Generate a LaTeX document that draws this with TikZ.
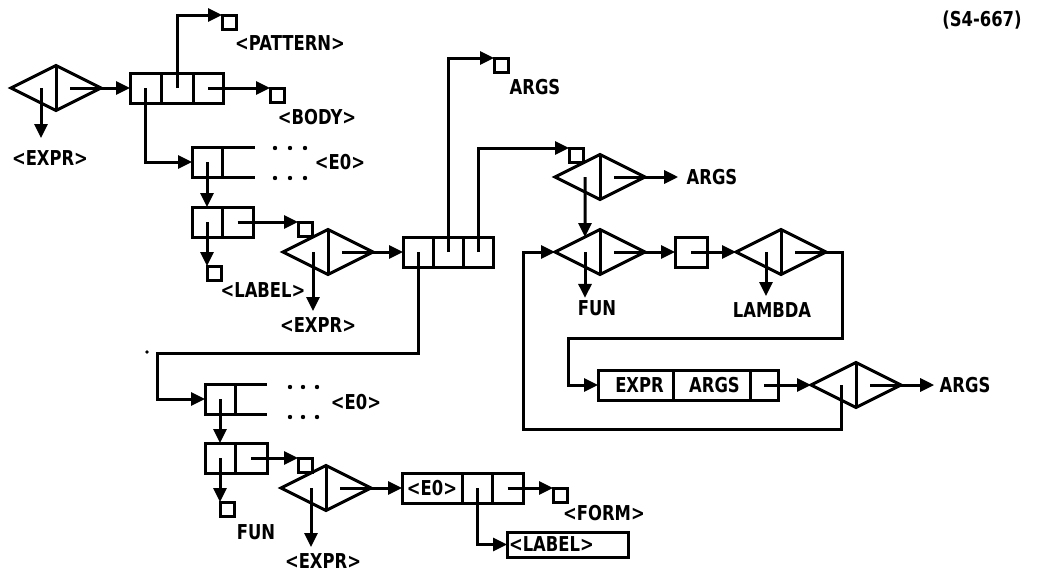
\documentclass[tikz,border=0pt]{standalone}
\usepackage{fontspec}
\setmainfont[FakeStretch=0.8]{DejaVu Sans}
\usetikzlibrary{shapes.geometric,arrows.meta}
\newcommand\lblfont{\bfseries\fontsize{20.5}{20.5}\selectfont}
\begin{document}
\begin{tikzpicture}[x=1pt,y=-1pt,line width=3pt,
 arr/.style={-{Triangle[length=14pt,width=13pt]}},
 dia/.style={draw,diamond,minimum width=90pt,minimum height=45pt,inner sep=0pt,outer sep=0pt},
 cell/.style={draw,rectangle,minimum height=30pt,minimum width=30pt,inner sep=0pt,outer sep=0pt,font=\lblfont},
 sbox/.style={draw,rectangle,minimum width=14pt,minimum height=14pt,inner sep=0pt,outer sep=0pt},
 lbl/.style={inner sep=1pt,font=\lblfont}]
\useasboundingbox (0,0) rectangle (1041,573);

% ---------- top left ----------
\node[dia] (d1) at (56,88) {};
\draw (d1.north) -- (d1.south);
\node[lbl] (ex1) at (50,158) {<EXPR>};
\draw[arr,shorten >=10pt] ([xshift=-15pt]d1.center) -- ([xshift=-15pt]d1.center |- ex1.north);

\node[cell,minimum width=31pt] (b1a) at (145.5,88) {};
\node[cell,minimum width=32pt] (b1b) at (177,88) {};
\node[cell] (b1c) at (208,88) {};
\draw[arr] ([xshift=14pt]d1.center) -- (b1a.west);
\node[sbox] (s1) at (229,22) {};
\node[sbox] (s2) at (277,95) {};
\node[lbl] (pat) at (290,43) {<PATTERN>};
\node[lbl] (body) at (317,117) {<BODY>};
\draw[arr] (b1b.center) |- (s1.north west);
\draw[arr] (b1c.center) -- (s2.north west);

\node[cell] (b2a) at (207,162) {};
\draw[arr] (b1a.center) |- (b2a.west);
\draw (b2a.north east) -- ++(33,0);
\draw (b2a.south east) -- ++(33,0);
\foreach \x in {275,290,305} {\fill (\x,148) circle[radius=2.2pt]; \fill (\x,178) circle[radius=2.2pt];}
\node[lbl] (e01) at (340,162) {<E0>};

\node[cell] (b3a) at (207,222) {};
\node[cell,minimum width=31pt] (b3b) at (237.5,222) {};
\draw[arr] (b2a.center) -- (b3a.north);
\node[sbox] (s3) at (214,273) {};
\draw[arr] (b3a.center) -- (s3.north west);
\node[lbl] (lab1) at (263,290) {<LABEL>};
\node[sbox] (s4) at (305,229) {};
\draw[arr] (b3b.center) -- (s4.north west);

\node[dia] (d2) at (328,252) {};
\draw (d2.north) -- (d2.south);
\node[lbl] (ex2) at (318,325) {<EXPR>};
\draw[arr,shorten >=4pt] ([xshift=-15pt]d2.center) -- ([xshift=-15pt]d2.center |- ex2.north);

% ---------- middle ----------
\node[cell] (b4a) at (418,252) {};
\node[cell] (b4b) at (448,252) {};
\node[cell] (b4c) at (478,252) {};
\draw[arr] ([xshift=14pt]d2.center) -- (b4a.west);
\node[sbox] (s5) at (501,65) {};
\draw[arr] (b4b.center) |- (s5.north west);
\node[lbl] (args1) at (535,87) {ARGS};
\node[sbox] (s6) at (576,155) {};
\draw[arr] (b4c.center) |- (s6.north west);

\node[dia] (d3) at (600,177) {};
\draw (d3.north) -- (d3.south);
\node[lbl] (args2) at (712,177) {ARGS};
\draw[arr,shorten >=6pt] ([xshift=14pt]d3.center) -- (args2.west);

\node[dia] (d4) at (600,252) {};
\draw (d4.north) -- (d4.south);
\draw[arr] ([xshift=-15pt]d3.center) -- (d4.135);
\node[lbl] (fun1) at (597,308) {FUN};
\draw[arr,shorten >=0pt] ([xshift=-15pt]d4.center) -- ([xshift=-15pt]d4.center |- fun1.north);

\node[cell,minimum width=32pt] (b6) at (691,252) {};
\draw[arr] ([xshift=14pt]d4.center) -- (b6.west);
\node[dia] (d5) at (781,252) {};
\draw (d5.north) -- (d5.south);
\draw[arr] (b6.center) -- (d5.west);
\node[lbl] (lam) at (772,310) {LAMBDA};
\draw[arr,shorten >=4pt] ([xshift=-15pt]d5.center) -- ([xshift=-15pt]d5.center |- lam.north);

\coordinate (c1) at (842,338);
\coordinate (c2) at (568,338);
\node[cell,minimum width=75pt] (b7a) at (635.5,385) {\hspace*{8pt}EXPR};
\node[cell,minimum width=77pt] (b7b) at (711.5,385) {\hspace*{6pt}ARGS};
\node[cell,minimum width=28pt] (b7c) at (764,385) {};
\draw[arr] ([xshift=14pt]d5.center) -| (c1) -- (c2) |- (b7a.west);

\node[dia] (d6) at (856,385) {};
\draw (d6.north) -- (d6.south);
\draw[arr] (b7c.center) -- (d6.west);
\node[lbl] (args3) at (965,385) {ARGS};
\draw[arr,shorten >=3pt] ([xshift=14pt]d6.center) -- (args3.west);
\coordinate (lp) at (523,429);
\draw[arr] ([xshift=-15pt]d6.center) |- (lp) |- (d4.west);

% ---------- bottom ----------
\coordinate (c3) at (157,353);
\fill (147,352) circle[radius=1.8pt];
\node[cell] (b5a) at (220,399) {};
\draw[arr] (b4a.center) |- (c3) |- (b5a.west);
\draw (b5a.north east) -- ++(32,0);
\draw (b5a.south east) -- ++(32,0);
\foreach \x in {290,303,317} {\fill (\x,387) circle[radius=2.2pt]; \fill (\x,417) circle[radius=2.2pt];}
\node[lbl] (e02) at (356,402) {<E0>};

\node[cell] (b8a) at (220,458) {};
\node[cell,minimum width=32pt] (b8b) at (251,458) {};
\draw[arr] (b5a.center) -- (b8a.north);
\node[sbox] (s7) at (227,509) {};
\draw[arr] (b8a.center) -- (s7.north west);
\node[lbl] (fun2) at (256,532) {FUN};
\node[sbox] (s8) at (305,465) {};
\draw[arr] (b8b.center) -- (s8.north west);

\node[dia] (d7) at (326,488) {};
\draw (d7.north) -- (d7.south);
\node[lbl] (ex3) at (323,561) {<EXPR>};
\draw[arr,shorten >=4pt] ([xshift=-15pt]d7.center) -- ([xshift=-15pt]d7.center |- ex3.north);

\node[cell,minimum width=60pt] (b9a) at (432,488) {<E0>};
\node[cell] (b9b) at (477,488) {};
\node[cell,minimum width=31pt] (b9c) at (507.5,488) {};
\draw[arr] ([xshift=14pt]d7.center) -- (b9a.west);
\node[draw,rectangle,minimum width=121pt,minimum height=25pt,inner xsep=2pt,inner ysep=0pt,outer sep=0pt,text width=117pt,align=left,font=\lblfont] (lb) at (567.5,544.5) {<LABEL>};
\draw[arr] (b9b.center) |- (lb.west);
\node[sbox] (s9) at (560,495) {};
\draw[arr] (b9c.center) -- (s9.north west);
\node[lbl] (form) at (604,513) {<FORM>};

\node[lbl] (ref) at (982,20) {(S4-667)};
\end{tikzpicture}
\end{document}
